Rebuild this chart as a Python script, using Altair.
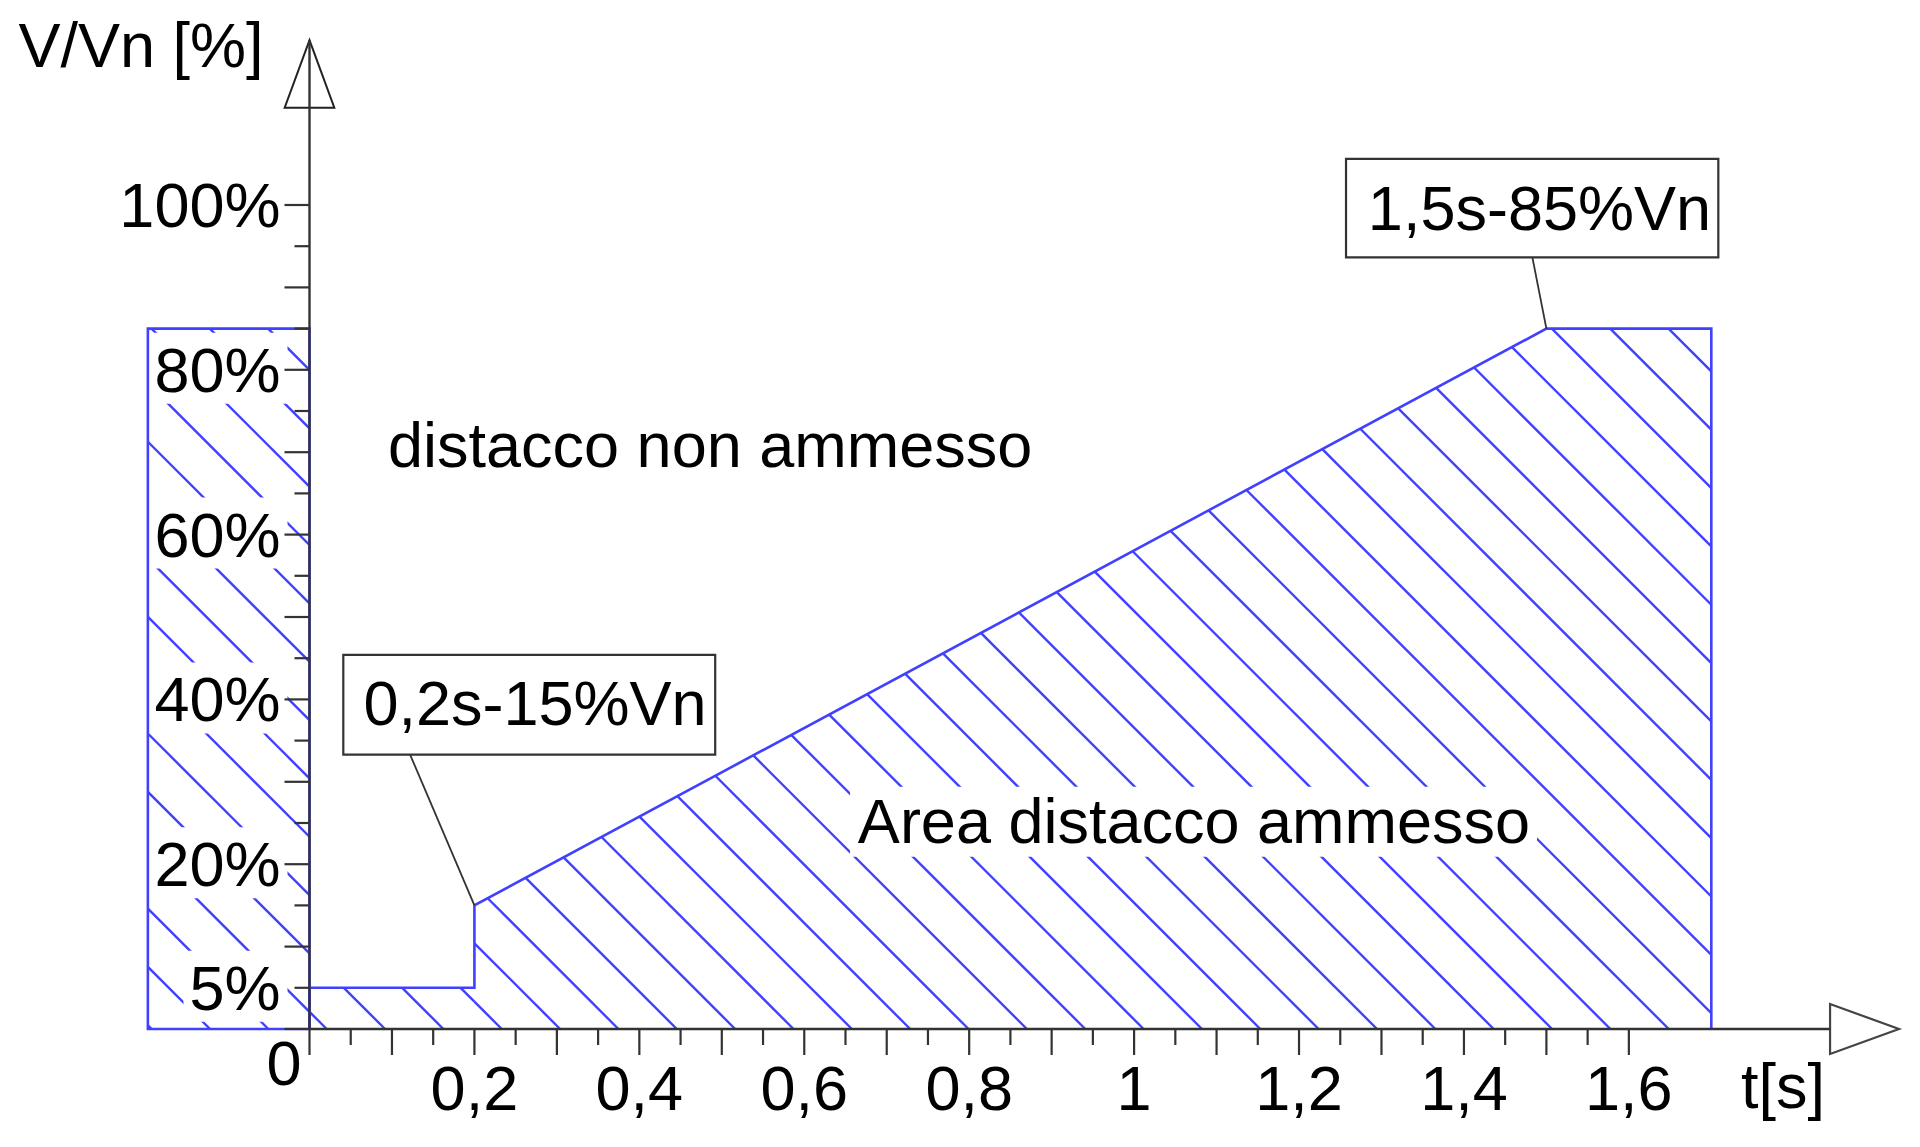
import altair as alt
import pandas as pd
import numpy as np

# ---------------- data (time in s, voltage in % of Vn) ----------------
area_t = [0.0, 0.0, 0.2, 0.2, 1.5, 1.7, 1.7]
area_v = [0.0, 5.0, 5.0, 15.0, 85.0, 85.0, 0.0]
left_t = [-0.196, 0.0]
left_v = [0.0, 85.0]

t_tick_values = [0.2, 0.4, 0.6, 0.8, 1.0, 1.2, 1.4, 1.6]
t_tick_labels = ["0,2", "0,4", "0,6", "0,8", "1", "1,2", "1,4", "1,6"]
v_tick_values = [100, 80, 60, 40, 20, 5]
v_tick_labels = ["100%", "80%", "60%", "40%", "20%", "5%"]

callout_labels = ["0,2s-15%Vn", "1,5s-85%Vn"]
callout_point_t = [0.2, 1.5]
callout_point_v = [15.0, 85.0]
callout_box_t = [0.041, 1.257]
callout_box_t2 = [0.492, 1.7085]
callout_box_v = [33.3, 93.65]
callout_box_v2 = [45.4, 105.6]
callout_leader_t = [0.122, 1.483]
callout_text_t = [0.2735, 1.4916]
callout_text_v = [36.9, 97.0]

caption_labels = ["distacco non ammesso", "Area distacco ammesso"]
caption_t = [0.0952, 0.665]
caption_v = [68.2, 22.6]
caption_mask_t = [None, 0.6555]
caption_mask_t2 = [None, 1.4886]

t_axis_end = 1.844      # start of x arrow head
t_arrow_tip = 1.9276
v_arrow_tip = 120.0
v_arrow_base = 111.8
axis_title_t = 1.736

# ---------------- layout / style ----------------
KX = 824.6   # px per second
KY = 8.24    # px per %
OX, OY = 309.5, 1029.0
MARGIN = 8
W, H = 1900, 1135
x_dom = [-(OX - MARGIN) / KX, -(OX - MARGIN) / KX + W / KX]
y_dom = [(OY - MARGIN) / KY - H / KY, (OY - MARGIN) / KY]

BLUE = "#4040ff"
INK = "#333333"
FONT = "Liberation Sans"
FS = 63

X = lambda f, **k: alt.X(f, type="quantitative", scale=alt.Scale(domain=x_dom, nice=False, zero=False), axis=None, **k)
Y = lambda f, **k: alt.Y(f, type="quantitative", scale=alt.Scale(domain=y_dom, nice=False, zero=False), axis=None, **k)

# ---------------- hatch lines (45 deg on screen) ----------------
S = KX / KY
c0 = 17.2 / KX
d = 58.35 / KX

pieces = [
    [(left_t[0], left_v[0]), (left_t[1], left_v[0]), (left_t[1], left_v[1]), (left_t[0], left_v[1])],
    list(zip(area_t[:3], area_v[:3])) + [(area_t[2], 0.0)],
    [(area_t[3], 0.0)] + list(zip(area_t[3:], area_v[3:])),
]


def clip_convex(poly, c):
    P = np.array(poly, dtype=float)
    cen = P.mean(axis=0)
    P0 = np.array([c, 0.0])
    D = np.array([1.0, -S])
    tlo, thi = -1e9, 1e9
    n = len(P)
    for i in range(n):
        A, B = P[i], P[(i + 1) % n]
        e = B - A
        nrm = np.array([-e[1], e[0]])
        if np.dot(nrm, cen - A) < 0:
            nrm = -nrm
        num = np.dot(nrm, P0 - A)
        den = np.dot(nrm, D)
        if abs(den) < 1e-12:
            if num < 0:
                return None
            continue
        t = -num / den
        if den > 0:
            tlo = max(tlo, t)
        else:
            thi = min(thi, t)
    if thi - tlo < 1e-6:
        return None
    return P0 + tlo * D, P0 + thi * D


segs = []
kmin = int(np.floor((-0.3 - c0) / d))
kmax = int(np.ceil((2.7 - c0) / d))
for k in range(kmin, kmax + 1):
    c = c0 + k * d
    for poly in pieces:
        r = clip_convex(poly, c)
        if r is not None:
            a, b = r
            segs.append({"x": a[0], "y": a[1], "x2": b[0], "y2": b[1]})
hatch_df = pd.DataFrame(segs)

hatch = alt.Chart(hatch_df).mark_rule(color=BLUE, strokeWidth=2.4).encode(
    x=X("x"), y=Y("y"), x2="x2", y2="y2")

# ---------------- white masks behind labels ----------------
adv = {c: 0.556 for c in "0123456789"}
adv["%"] = 0.889
LBL_DX = -29
masks = []
for v, lab in zip(v_tick_values, v_tick_labels):
    if v > left_v[1]:
        continue
    wpx = sum(adv[ch] for ch in lab) * FS
    masks.append({"x": (LBL_DX - wpx - 6) / KX, "x2": (LBL_DX + 7) / KX,
                  "y": v + 37 / KY, "y2": v - 34 / KY})
for t1, t2, v in zip(caption_mask_t, caption_mask_t2, caption_v):
    if t1 is None:
        continue
    masks.append({"x": t1, "x2": t2, "y": v + 56 / KY, "y2": v - 14 / KY})
mask = alt.Chart(pd.DataFrame(masks)).mark_rect(color="white").encode(
    x=X("x"), x2="x2", y=Y("y"), y2="y2")

# ---------------- outlines ----------------
area_df = pd.DataFrame({"t": area_t, "v": area_v, "o": list(range(len(area_t)))})
area_line = alt.Chart(area_df).mark_line(color=BLUE, strokeWidth=2.6).encode(
    x=X("t"), y=Y("v"), order="o:Q")
left_df = pd.DataFrame({"t": [left_t[0]], "t2": [left_t[1]], "v": [left_v[0]], "v2": [left_v[1]]})
left_box = alt.Chart(left_df).mark_rect(fillOpacity=0, stroke=BLUE, strokeWidth=2.6).encode(
    x=X("t"), x2="t2", y=Y("v"), y2="v2")

# ---------------- axes ----------------
LONG, SHORT = 26, 16
xt = np.round(np.arange(0, 1.6001, 0.05), 2)
xtick_df = pd.DataFrame({"t": xt, "v": 0.0,
                         "v2": [-(LONG if round(t * 20) % 2 == 0 else SHORT) / KY for t in xt]})
xticks = alt.Chart(xtick_df).mark_rule(color=INK, strokeWidth=2.2).encode(x=X("t"), y=Y("v"), y2="v2")
yt = list(range(0, 101, 5))
ytick_df = pd.DataFrame({"v": yt, "t": 0.0,
                         "t2": [-(LONG - 1 if v % 10 == 0 else SHORT - 1) / KX for v in yt]})
yticks = alt.Chart(ytick_df).mark_rule(color=INK, strokeWidth=2.2).encode(x=X("t"), x2="t2", y=Y("v"))

axis_df = pd.DataFrame({"t": [0.0, 0.0], "t2": [t_axis_end, 0.0], "v": [0.0, 0.0], "v2": [0.0, v_arrow_tip]})
axes = alt.Chart(axis_df).mark_rule(color=INK, strokeWidth=2.4).encode(x=X("t"), x2="t2", y=Y("v"), y2="v2")

up_len = (v_arrow_tip - v_arrow_base) * KY
yarrow = alt.Chart(pd.DataFrame({"t": [0.0], "v": [(v_arrow_tip + v_arrow_base) / 2]})).mark_point(
    shape="M0,-1L0.735,1L-0.735,1Z", size=up_len ** 2, filled=True, fill="white",
    stroke="#222222", strokeWidth=2, opacity=1).encode(x=X("t"), y=Y("v"))
r_len = (t_arrow_tip - t_axis_end) * KX
xarrow = alt.Chart(pd.DataFrame({"t": [(t_arrow_tip + t_axis_end) / 2], "v": [0.0]})).mark_point(
    shape="M1,0L-1,0.725L-1,-0.725Z", size=r_len ** 2, filled=True, fill="white",
    stroke="#444444", strokeWidth=2.2, opacity=1).encode(x=X("t"), y=Y("v"))

txt = dict(font=FONT, fontSize=FS, color="black")
xlab = alt.Chart(pd.DataFrame({"t": t_tick_values, "v": 0.0, "lab": t_tick_labels})).mark_text(
    align="center", baseline="alphabetic", dy=81, **txt).encode(x=X("t"), y=Y("v"), text="lab:N")
ylab = alt.Chart(pd.DataFrame({"t": 0.0, "v": v_tick_values, "lab": v_tick_labels})).mark_text(
    align="right", baseline="alphabetic", dx=LBL_DX, dy=22, **txt).encode(x=X("t"), y=Y("v"), text="lab:N")
zero_lab = alt.Chart(pd.DataFrame({"t": [0.0], "v": [0.0], "lab": ["0"]})).mark_text(
    align="right", baseline="alphabetic", dx=-8, dy=56, **txt).encode(x=X("t"), y=Y("v"), text="lab:N")
ytitle = alt.Chart(pd.DataFrame({"t": [0.0], "v": [v_arrow_tip], "lab": ["V/Vn [%]"]})).mark_text(
    align="right", baseline="alphabetic", dx=-46, dy=27, **txt).encode(x=X("t"), y=Y("v"), text="lab:N")
xtitle = alt.Chart(pd.DataFrame({"t": [axis_title_t], "v": [0.0], "lab": ["t[s]"]})).mark_text(
    align="left", baseline="alphabetic", dy=79, **txt).encode(x=X("t"), y=Y("v"), text="lab:N")

# ---------------- callouts ----------------
co_df = pd.DataFrame({"lab": callout_labels, "pt": callout_point_t, "pv": callout_point_v,
                      "bt": callout_box_t, "bt2": callout_box_t2, "bv": callout_box_v, "bv2": callout_box_v2,
                      "lt": callout_leader_t, "tt": callout_text_t, "tv": callout_text_v})
leaders = alt.Chart(co_df).mark_rule(color=INK, strokeWidth=1.8).encode(
    x=X("lt"), y=Y("bv"), x2="pt", y2="pv")
boxes = alt.Chart(co_df).mark_rect(fill="white", stroke=INK, strokeWidth=2.2).encode(
    x=X("bt"), x2="bt2", y=Y("bv"), y2="bv2")
co_text = alt.Chart(co_df).mark_text(align="center", baseline="alphabetic", **txt).encode(
    x=X("tt"), y=Y("tv"), text="lab:N")

cap_df = pd.DataFrame({"lab": caption_labels, "t": caption_t, "v": caption_v})
captions = alt.Chart(cap_df).mark_text(align="left", baseline="alphabetic", **txt).encode(
    x=X("t"), y=Y("v"), text="lab:N")

chart = alt.layer(
    hatch, mask, area_line, left_box, xticks, yticks, yarrow, xarrow, axes,
    leaders, boxes, co_text, captions, xlab, ylab, zero_lab, ytitle, xtitle,
).properties(width=W, height=H, padding=0, autosize="none", background="white"
).configure_view(strokeWidth=0)

chart.save("out.html", embed_options={"renderer": "svg", "actions": False})
